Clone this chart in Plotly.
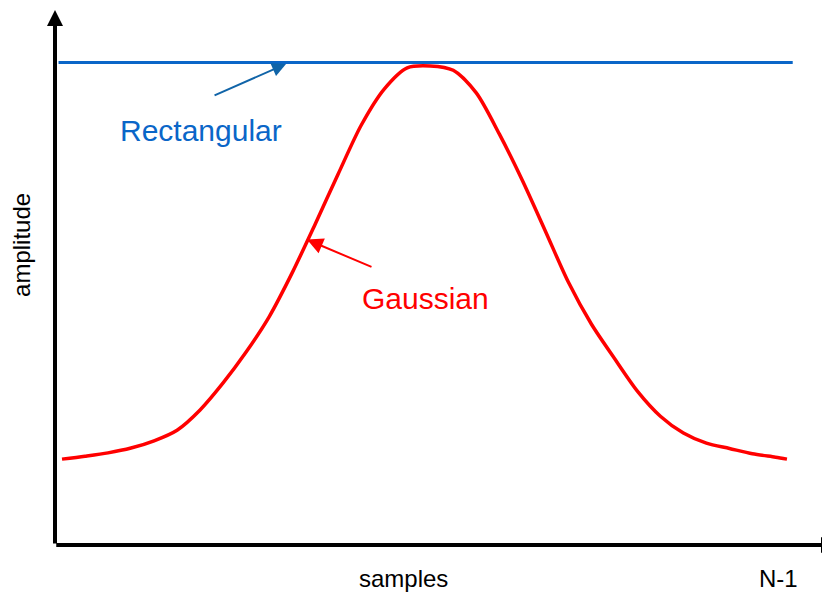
import plotly.graph_objects as go

# window shapes (sample index vs amplitude)
gauss_n = [0, 2, 4, 6, 8, 10, 12, 14, 16, 18, 20, 22, 24, 26, 28, 30, 32,
           34, 36, 38, 40, 42, 44, 46, 48, 50, 52, 54, 56, 58, 60, 62, 63]
gauss_amp = [0.178, 0.184, 0.191, 0.201, 0.216, 0.238, 0.280, 0.336, 0.400, 0.473,
             0.564, 0.665, 0.769, 0.870, 0.945, 0.989, 0.993,
             0.984, 0.937, 0.852, 0.756, 0.651, 0.545, 0.458, 0.387, 0.319,
             0.267, 0.232, 0.211, 0.200, 0.189, 0.182, 0.178]

rect_n = [-0.3, 63.5]
rect_amp = [1.0, 1.0]

x_label = "samples"
y_label = "amplitude"
end_label = "N-1"

FONT = "Liberation Sans, Arial"

fig = go.Figure()

fig.add_trace(go.Scatter(x=rect_n, y=rect_amp, mode="lines",
                         line=dict(color="#0A66C8", width=3), hoverinfo="skip"))
fig.add_trace(go.Scatter(x=gauss_n, y=gauss_amp, mode="lines",
                         line=dict(color="#FF0000", width=3.5, shape="spline", smoothing=0.8),
                         hoverinfo="skip"))

# axes drawn as arrows
fig.add_annotation(xref="paper", yref="paper", x=0, y=0.9963, ax=0, ay=535,
                   showarrow=True, arrowhead=2, arrowsize=0.8, arrowwidth=4,
                   arrowcolor="black", standoff=0, text="")
fig.add_annotation(xref="paper", yref="paper", x=1.01, y=0, ax=-783, ay=0,
                   showarrow=True, arrowhead=2, arrowsize=0.8, arrowwidth=4,
                   arrowcolor="black", standoff=0, text="")

# labels pointing at the curves
fig.add_annotation(x=19.47, y=0.997, ax=-73, ay=32, showarrow=True,
                   arrowhead=2, arrowsize=1.4, arrowwidth=2, arrowcolor="#1064A8",
                   standoff=0, text="")
fig.add_annotation(x=12.08, y=0.859, text="Rectangular", showarrow=False,
                   xanchor="center", yanchor="middle",
                   font=dict(family=FONT, size=30, color="#0A66C8"))

fig.add_annotation(x=21.29, y=0.633, ax=66, ay=28, showarrow=True,
                   arrowhead=2, arrowsize=1.6, arrowwidth=2, arrowcolor="#FF0000",
                   standoff=0, text="")
fig.add_annotation(x=31.63, y=0.510, text="Gaussian", showarrow=False,
                   xanchor="center", yanchor="middle",
                   font=dict(family=FONT, size=30, color="#FF0000"))

fig.add_annotation(xref="paper", yref="paper", x=0.450, y=-0.0615, text=x_label,
                   showarrow=False, xanchor="center", yanchor="middle",
                   font=dict(family=FONT, size=24, color="black"))
fig.add_annotation(xref="paper", yref="paper", x=0.934, y=-0.0615, text=end_label,
                   showarrow=False, xanchor="center", yanchor="middle",
                   font=dict(family=FONT, size=24, color="black"))
fig.add_annotation(xref="paper", yref="paper", x=-0.0426, y=0.5587, text=y_label,
                   textangle=-90, showarrow=False, xanchor="center", yanchor="middle",
                   font=dict(family=FONT, size=24, color="black"))

# page body has an 8px margin, so the plot area is shifted up/left to compensate
fig.update_layout(
    width=830, height=599, autosize=False,
    margin=dict(l=47, r=8, t=0, b=62),
    plot_bgcolor="white", paper_bgcolor="white",
    showlegend=False
)
fig.update_xaxes(visible=False, range=[-0.608, 66.74])
fig.update_yaxes(visible=False, range=[0, 1.113])

fig.write_html("out.html")
